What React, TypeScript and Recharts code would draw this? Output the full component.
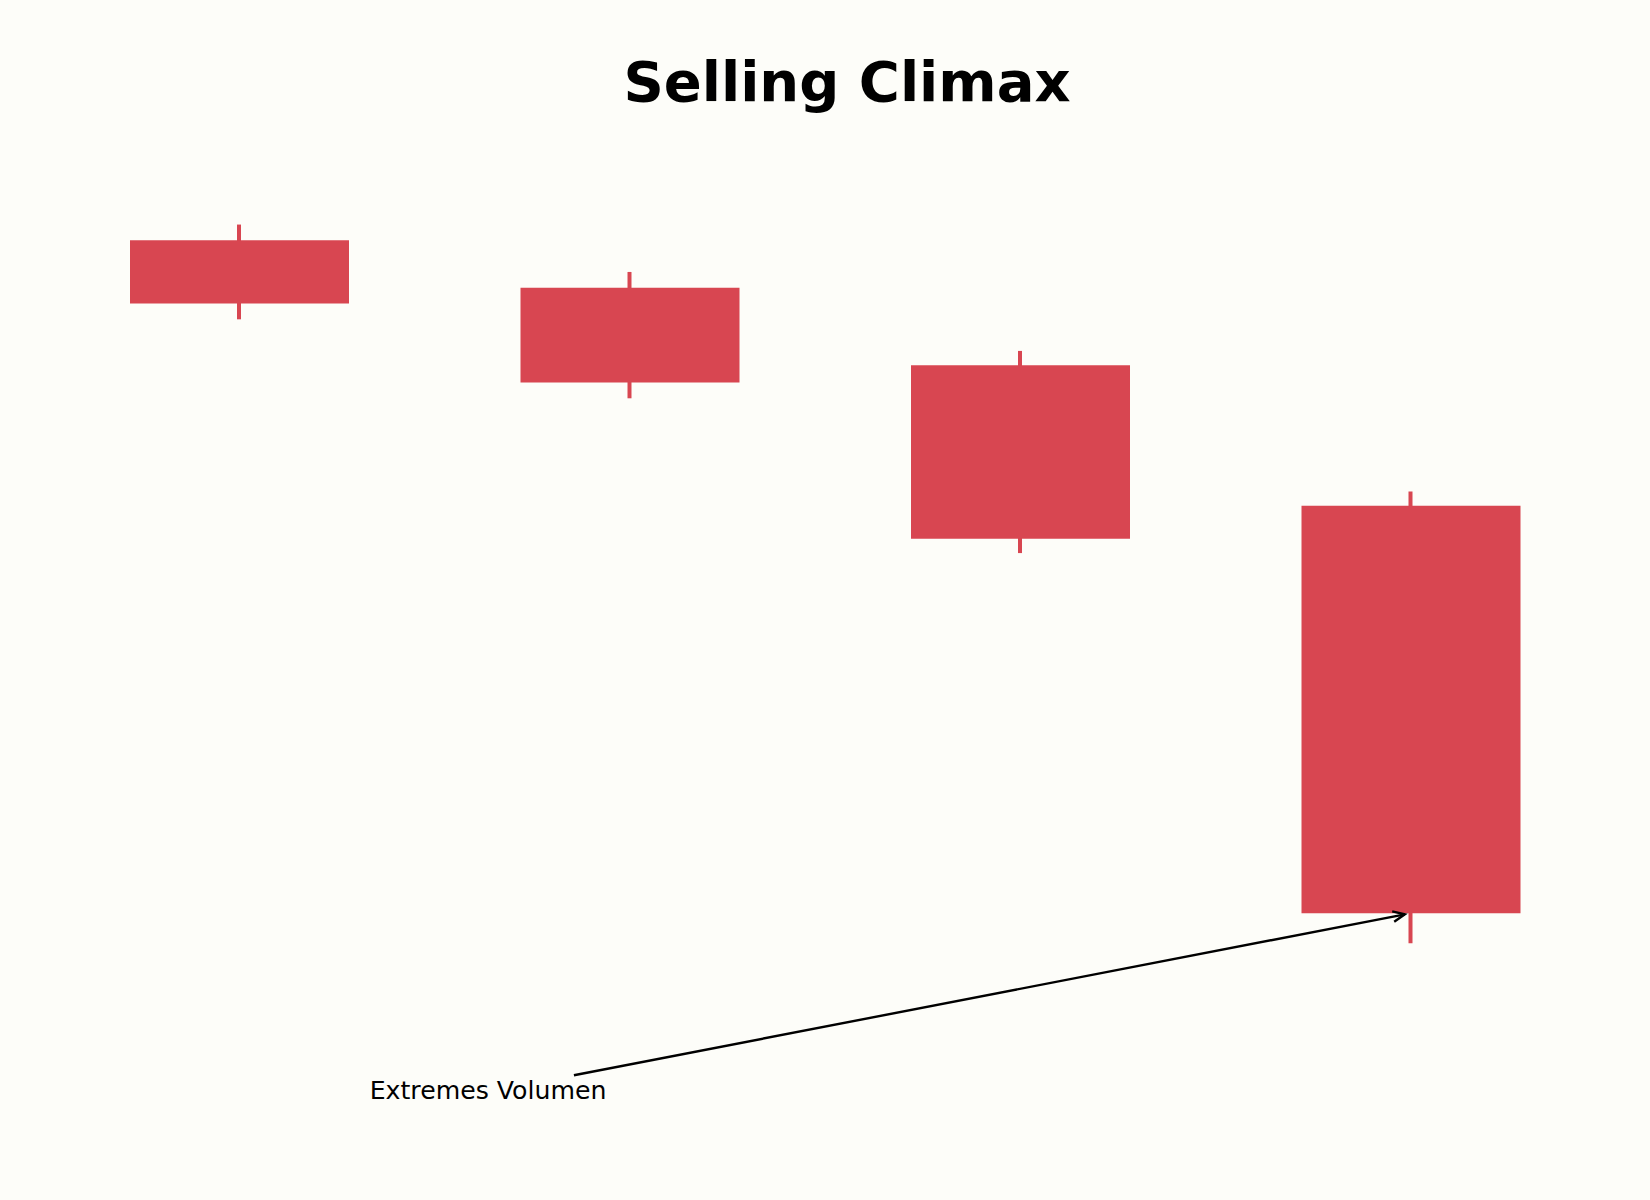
import { ComposedChart, Bar, XAxis, YAxis, ReferenceLine, ReferenceDot } from "recharts";

const candles = ["C1", "C2", "C3", "C4"];
const opens = [100, 98.5, 96.05, 91.6];
const closes = [98, 95.5, 90.55, 78.7];
const highs = [100.5, 99, 96.5, 92.05];
const lows = [97.5, 95, 90.1, 77.75];

const titleText = "Selling Climax";
const noteText = "Extremes Volumen";
const notePos = [0.334, 72.83];
const arrowFrom = [0.857, 73.57];
const arrowTo = [3, 78.7];

const RED = "#d84651";
const BG = "#fdfdf9";

const data = candles.map((name, i) => ({
  name,
  idx: i,
  body: [Math.min(opens[i], closes[i]), Math.max(opens[i], closes[i])],
  wick: [lows[i], highs[i]],
}));

function Arrow(props: any) {
  const { x1, y1, x2, y2 } = props;
  const dx = x2 - x1;
  const dy = y2 - y1;
  const len = Math.sqrt(dx * dx + dy * dy);
  const ux = dx / len;
  const uy = dy / len;
  // pull the tip back a little, like matplotlib's shrink
  const tx = x2 - ux * 6;
  const ty = y2 - uy * 6;
  const head = 13;
  const ang = 0.42;
  const a1x = tx - head * (ux * Math.cos(ang) - uy * Math.sin(ang));
  const a1y = ty - head * (uy * Math.cos(ang) + ux * Math.sin(ang));
  const a2x = tx - head * (ux * Math.cos(ang) + uy * Math.sin(ang));
  const a2y = ty - head * (uy * Math.cos(ang) - ux * Math.sin(ang));
  return (
    <g>
      <line x1={x1} y1={y1} x2={tx} y2={ty} stroke="#000" strokeWidth={2.4} />
      <polyline
        points={`${a1x},${a1y} ${tx},${ty} ${a2x},${a2y}`}
        fill="none"
        stroke="#000"
        strokeWidth={2.4}
      />
    </g>
  );
}

function Note(props: any) {
  const { cx, cy } = props;
  return (
    <text x={cx} y={cy} fontSize={25.2} fill="#000" fontFamily="DejaVu Sans" textAnchor="start">
      {noteText}
    </text>
  );
}

export default function App() {
  return (
    <div style={{ position: "absolute", left: 0, top: 0, width: 1650, height: 1200, background: BG }}>
      <ComposedChart
        width={1650}
        height={1200}
        data={data}
        margin={{ top: 114, right: 44, bottom: 12, left: 44 }}
      >
        <text
          x={847}
          y={101}
          textAnchor="middle"
          fontSize={56}
          fontWeight="bold"
          fontFamily="DejaVu Sans"
          fill="#000"
        >
          {titleText}
        </text>
        <XAxis xAxisId="wick" dataKey="idx" type="number" domain={[-0.5, 3.5]} hide />
        <XAxis xAxisId="body" dataKey="idx" type="number" domain={[-0.5, 3.5]} hide />
        <YAxis type="number" domain={[70, 104]} hide allowDataOverflow />
        <Bar xAxisId="wick" dataKey="wick" barSize={4} fill={RED} isAnimationActive={false} />
        <Bar xAxisId="body" dataKey="body" barSize={219} fill={RED} isAnimationActive={false} />
        <ReferenceLine
          xAxisId="body"
          segment={[
            { x: arrowFrom[0], y: arrowFrom[1] },
            { x: arrowTo[0], y: arrowTo[1] },
          ]}
          shape={Arrow}
        />
        <ReferenceDot xAxisId="body" x={notePos[0]} y={notePos[1]} r={0} shape={Note} />
      </ComposedChart>
    </div>
  );
}
